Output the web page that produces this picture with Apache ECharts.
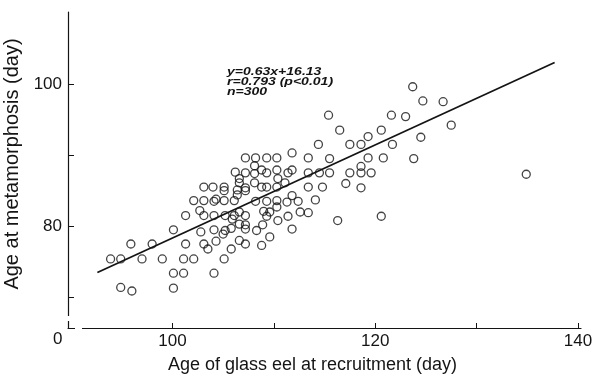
<!DOCTYPE html>
<html>
<head>
<meta charset="utf-8">
<script src="https://cdn.jsdelivr.net/npm/echarts@6/dist/echarts.min.js"></script>
<style>
  html, body { margin: 0; padding: 0; background: #fff; }
  #chart { width: 593px; height: 378px; }
</style>
</head>
<body>
<div id="chart"></div>
<script>
// age of glass eel at recruitment (day)
var ageRecruit = [
  93.9, 94.9, 95.9, 97.0, 98.0, 99.0, 100.1, 101.1, 102.1, 100.1,
  101.1, 94.9, 96.0, 100.1, 101.3, 101.3, 102.1, 102.7, 102.8, 103.1,
  103.5, 103.1, 103.1, 103.1, 104.0, 104.1, 104.3, 104.1, 104.1, 104.3,
  104.1, 105.1, 105.1, 105.1, 105.2, 105.2, 105.0, 105.1, 105.8, 105.9,
  105.8, 106.1, 106.1, 106.4, 106.4, 106.2, 106.6, 106.6, 106.6, 106.6,
  106.6, 107.2, 107.2, 107.2, 107.2, 107.2, 107.2, 107.2, 107.2, 108.1,
  108.2, 108.8, 108.1, 109.3, 109.3, 110.3, 110.3, 111.4, 111.8, 111.8,
  113.4, 113.4, 114.5, 115.5, 115.5, 114.4, 115.4, 116.5, 117.5, 118.6,
  119.3, 120.6, 121.6, 123.0, 121.7, 119.3, 120.8, 123.8, 124.5, 123.7,
  124.7, 126.7, 127.5, 134.9, 117.5, 118.6, 118.6, 119.6, 117.1, 118.6,
  114.8, 113.4, 110.4, 108.1, 111.1, 108.8, 109.3, 110.3, 111.8, 112.4,
  114.1, 108.2, 109.3, 110.3, 111.3, 110.3, 109.0, 109.6, 109.3, 111.4,
  112.6, 113.4, 110.4, 108.9, 108.3, 111.8, 116.3, 120.6, 108.8, 109.6
];
// age at metamorphosis (day)
var ageMeta = [
  75.4, 75.4, 77.5, 75.4, 77.5, 75.4, 79.5, 75.4, 75.4, 73.4,
  73.4, 71.4, 70.9, 71.3, 77.5, 81.5, 83.6, 82.2, 79.2, 77.5,
  76.8, 81.5, 83.6, 85.5, 85.5, 83.5, 83.8, 81.5, 79.5, 77.9,
  73.4, 85.5, 85.0, 83.6, 81.5, 79.4, 78.9, 75.4, 79.7, 81.0,
  76.8, 83.6, 81.5, 85.1, 84.4, 87.6, 86.7, 86.1, 82.0, 80.3,
  78.0, 89.6, 87.5, 85.4, 85.0, 81.5, 80.2, 79.6, 77.5, 88.5,
  89.6, 87.9, 87.4, 87.5, 89.6, 89.6, 87.9, 87.5, 87.9, 90.3,
  89.6, 87.5, 87.5, 87.5, 89.5, 91.5, 95.6, 93.5, 91.5, 91.5,
  92.6, 93.5, 95.6, 95.4, 91.5, 89.6, 89.6, 89.5, 92.5, 99.6,
  97.6, 97.5, 94.2, 87.3, 87.5, 88.4, 87.5, 87.5, 86.0, 85.4,
  85.5, 85.5, 86.7, 86.1, 86.1, 85.5, 85.5, 85.5, 84.3, 83.5,
  83.7, 83.5, 83.5, 83.6, 83.4, 82.7, 82.1, 82.0, 81.4, 81.4,
  82.0, 81.9, 80.8, 80.2, 79.4, 79.6, 80.8, 81.4, 77.3, 78.5
];
// regression line ends, as drawn
var fitX = [92.6, 137.7];
var fitY = [73.5, 103.0];

var xTicks = [100, 110, 120, 130, 140];
var xLabels = [100, 120, 140];
var yTicks = [70, 80, 90, 100];
var yLabels = [80, 100];

var fontName = '"Liberation Sans", Arial, sans-serif';
var ink = '#141414';

var points = ageRecruit.map(function (x, i) { return [x, ageMeta[i]]; });
var fitLine = fitX.map(function (x, i) { return [x, fitY[i]]; });

var chart = echarts.init(document.getElementById('chart'));
chart.setOption({
  animation: false,
  backgroundColor: '#fff',
  grid: { left: 68, top: 12, right: 12, bottom: 50, outerBoundsMode: 'none' },
  xAxis: {
    type: 'value',
    min: 89.7,
    max: 140.3,
    name: 'Age of glass eel at recruitment (day)',
    nameLocation: 'middle',
    nameGap: 28,
    nameTextStyle: { fontFamily: fontName, fontSize: 18, color: ink, padding: [0, 24, 0, 0] },
    axisLine: { show: true, lineStyle: { color: ink, width: 1.2 } },
    axisTick: { show: true, inside: true, length: 5, customValues: xTicks, lineStyle: { color: ink, width: 1 } },
    axisLabel: { customValues: xLabels, margin: 5, fontFamily: fontName, fontSize: 17, color: ink },
    splitLine: { show: false }
  },
  yAxis: {
    type: 'value',
    min: 65.7,
    max: 110.1,
    name: 'Age at metamorphosis (day)',
    nameLocation: 'middle',
    nameGap: 36,
    nameTextStyle: { fontFamily: fontName, fontSize: 20, color: ink, padding: [0, 0, 0, 12] },
    axisLine: { show: true, lineStyle: { color: ink, width: 1.2 } },
    axisTick: { show: true, inside: true, length: 6, customValues: yTicks, lineStyle: { color: ink, width: 1 } },
    axisLabel: { customValues: yLabels, margin: 6, fontFamily: fontName, fontSize: 17, color: ink },
    splitLine: { show: false }
  },
  series: [
    {
      type: 'scatter',
      data: points,
      symbol: 'circle',
      symbolSize: 8,
      itemStyle: { color: 'rgba(0,0,0,0)', borderColor: ink, borderWidth: 1.3 }
    },
    {
      type: 'line',
      data: fitLine,
      symbol: 'none',
      lineStyle: { color: ink, width: 1.8 }
    }
  ],
  graphic: [
    // axis break gaps
    { type: 'rect', z: 100, shape: { x: 64, y: 316, width: 8, height: 5 }, style: { fill: '#fff' } },
    { type: 'rect', z: 100, shape: { x: 75, y: 324, width: 7, height: 8 }, style: { fill: '#fff' } },
    { type: 'text', z: 100, left: 53, top: 331, style: { text: '0', font: '17px ' + fontName, fill: ink } },
    {
      type: 'text', z: 100, x: 227, y: 67, scaleX: 1.22,
      style: {
        text: 'y=0.63x+16.13\nr=0.793 (p<0.01)\nn=300',
        font: 'italic bold 11.5px ' + fontName,
        lineHeight: 10,
        fill: ink
      }
    }
  ]
});
</script>
</body>
</html>
